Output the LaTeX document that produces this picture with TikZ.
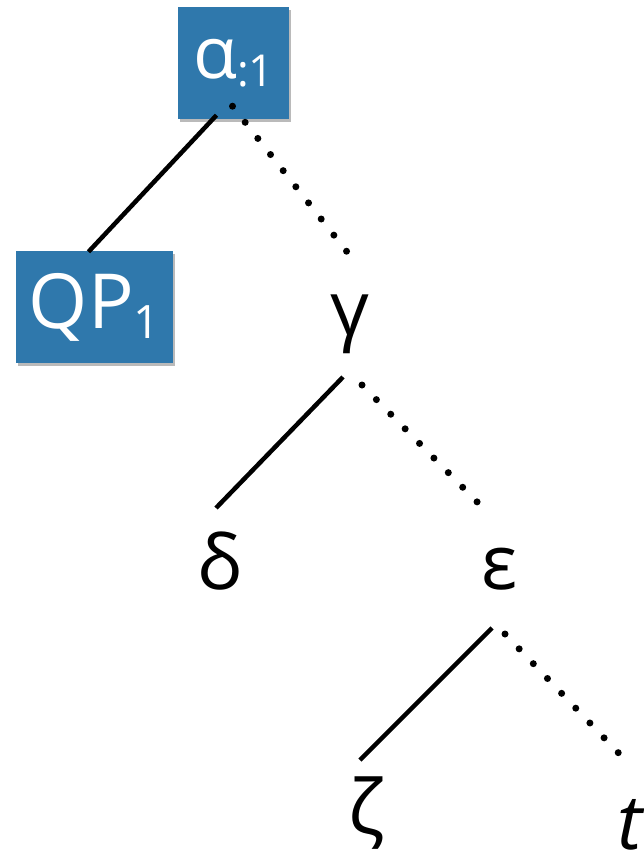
\documentclass[tikz,border=0pt]{standalone}
\usepackage{fontspec}
\setmainfont{Open Sans}
\usetikzlibrary{shadows}
\definecolor{boxblue}{HTML}{2F78AC}
\begin{document}
\begin{tikzpicture}[x=1pt,y=-1pt,
  lbl/.style={inner sep=0pt,anchor=base,font=\fontsize{76}{80}\selectfont},
  bluebox/.style={fill=boxblue,text=white,minimum width=#1,anchor=center,inner sep=0pt,
     drop shadow={shadow xshift=2pt,shadow yshift=-3pt,opacity=0.45,fill=black!60}},
  solidedge/.style={line width=4.5pt},
  dotedge/.style={line width=7pt,line cap=round,dash pattern=on 0pt off 20.5pt}]
\useasboundingbox (0,0) rectangle (644,861);
\node[bluebox=111pt,minimum height=112pt,font=\fontsize{72}{80}\selectfont] (a) at (233.5,63) {α\raisebox{-8pt}{\fontsize{44}{48}\selectfont:1}};
\node[bluebox=157pt,minimum height=112pt,font=\fontsize{76}{80}\selectfont] (q) at (94.5,307) {QP\raisebox{-10pt}{\fontsize{46}{50}\selectfont 1}};
\node[lbl] (g) at (350,335) {γ};
\node[lbl] (d) at (220,589) {δ};
\node[lbl] (e) at (500,589) {ε};
\node[lbl] (z) at (367,834) {ζ};
\node[lbl] (t) at (630,849) {\itshape t};
\draw[solidedge] ([xshift=-17pt,yshift=4pt]a.south) -- ([xshift=-6pt,yshift=-1pt]q.north);
\draw[dotedge] ([xshift=-1pt,yshift=13pt]a.south) -- (355,262);
\draw[solidedge] ([xshift=-7pt,yshift=-42pt]g.base) -- (216,508);
\draw[dotedge] ([xshift=12pt,yshift=-50pt]g.base) -- (490,515);
\draw[solidedge] ([xshift=-8pt,yshift=-39pt]e.base) -- (360,760);
\draw[dotedge] ([xshift=5pt,yshift=-45pt]e.base) -- (630,765);
\end{tikzpicture}
\end{document}
